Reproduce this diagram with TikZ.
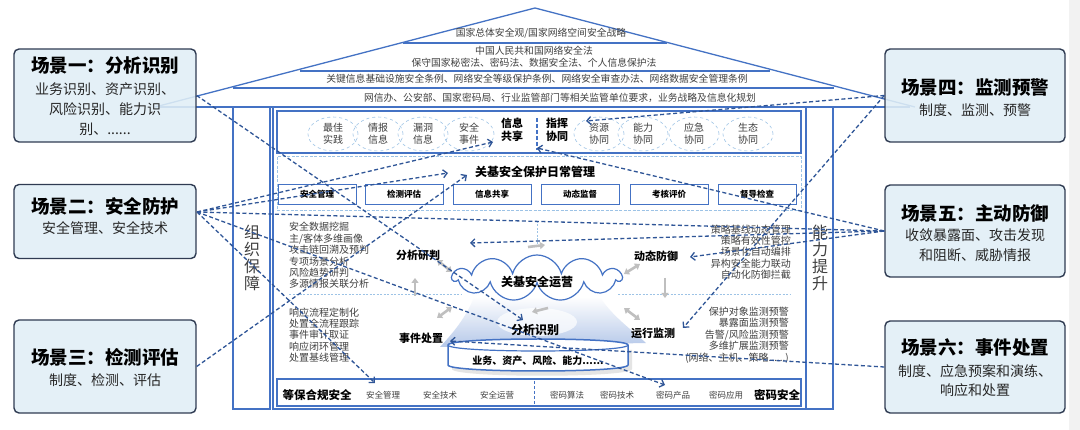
\documentclass[tikz,border=0pt]{standalone}
\usepackage{fontspec}
\setmainfont{Noto Sans CJK SC}
\usetikzlibrary{arrows.meta,shapes.symbols,shapes.geometric}
\definecolor{hblue}{HTML}{4472C4}
\definecolor{lblue}{HTML}{9DC3E6}
\definecolor{dblue}{HTML}{2F5597}
\definecolor{navy}{HTML}{2F3B52}
\definecolor{bfill}{HTML}{E1EFF6}
\definecolor{tgray}{HTML}{404040}
\definecolor{tdark}{HTML}{262626}
\definecolor{agray}{HTML}{BFBFBF}
\definecolor{beam}{HTML}{A9BFE6}
\definecolor{strip}{HTML}{F2F2F2}
\begin{document}
\begin{tikzpicture}[x=1pt,y=-1pt,
 wall/.style={draw=hblue,line width=1.3pt},
 rooft/.style={font=\fontsize{9.8}{11}\selectfont,text=tgray,inner sep=0pt},
 ell/.style={ellipse,draw=lblue,dashed,line width=0.6pt,minimum width=50pt,minimum height=34pt,inner sep=0pt,align=center,font=\fontsize{10}{12}\selectfont,text=tgray},
 boldlab/.style={font=\fontsize{11}{13}\selectfont\bfseries,text=black,align=center,inner sep=0pt},
 minibox/.style={draw=hblue,line width=0.8pt,fill=white,minimum width=78pt,minimum height=20pt,inner sep=0pt,font=\fontsize{8.5}{10}\selectfont\bfseries,text=black},
 listt/.style={font=\fontsize{10}{11.4}\selectfont,text=tgray,inner sep=0pt},
 botsmall/.style={font=\fontsize{8.5}{10}\selectfont,text=tgray,inner sep=0pt},
 scene/.style={draw=navy,line width=1.4pt,rounded corners=5pt,fill=bfill,fill opacity=0.88,minimum width=182pt,inner sep=0pt},
 stitle/.style={font=\fontsize{18.5}{20}\selectfont\bfseries,text=black,inner sep=0pt},
 sbody/.style={font=\fontsize{14}{20}\selectfont,text=tdark,align=center,inner sep=0pt},
 conn/.style={draw=dblue,line width=1.3pt,dash pattern=on 4pt off 2.5pt,-{Straight Barb[length=4pt,width=8pt]}},
 plainconn/.style={draw=dblue,line width=1.3pt,dash pattern=on 4pt off 2.5pt},
 garr/.style={draw=agray,line width=2.6pt,{Triangle[length=5pt,width=7pt]}-{Triangle[length=5pt,width=7pt]}},
 garrone/.style={draw=agray,line width=2.6pt,-{Triangle[length=5pt,width=7pt]}},
 pillart/.style={font=\fontsize{16}{17}\selectfont,text=tgray,align=center,inner sep=0pt}
]
\useasboundingbox (0,0) rectangle (1080,430);
\fill[white] (0,0) rectangle (1080,430);
\fill[strip] (1069,0) rectangle (1080,430);

% ---------------- roof
\coordinate (apex) at (535,8);
\coordinate (roofl) at (155,107);
\coordinate (roofr) at (915,107);
\draw[wall] (roofl) -- (apex) -- (roofr);
\draw[wall] (160,107) -- (910,107);
\draw[wall] (403,43) -- (667,43);
\draw[wall] (300,71) -- (770,71);
\draw[wall] (233,88) -- (834,88);
\node[rooft] (r1) at (541,33) {国家总体安全观/国家网络空间安全战略};
\node[rooft] (r2) at (534,51) {中国人民共和国网络安全法};
\node[rooft] (r3) at (534,63) {保守国家秘密法、密码法、数据安全法、个人信息保护法};
\node[rooft] (r4) at (537,79) {关键信息基础设施安全条例、网络安全等级保护条例、网络安全审查办法、网络数据安全管理条例};
\node[rooft] (r5) at (560,98) {网信办、公安部、国家密码局、行业监管部门等相关监管单位要求，业务战略及信息化规划};

% ---------------- building
\draw[wall] (233,107) -- (233,409) -- (270,409) -- (270,107);
\draw[wall] (273,107) -- (273,409) -- (806,409) -- (806,107);
\draw[wall] (806,409) -- (833,409) -- (833,107);
\node[pillart] (pl) at (252,258) {组\\织\\保\\障};
\node[pillart] (pr) at (820,258) {能\\力\\提\\升};

% top box
\draw[hblue,line width=1.2pt] (277,111) rectangle (801,153);
\node[ell] (e1) at (333,134) {最佳\\实践};
\node[ell] (e2) at (378,134) {情报\\信息};
\node[ell] (e3) at (423,134) {漏洞\\信息};
\node[ell] (e4) at (469,134) {安全\\事件};
\node[ell] (e5) at (599,134) {资源\\协同};
\node[ell] (e6) at (643,134) {能力\\协同};
\node[ell] (e7) at (694,134) {应急\\协同};
\node[ell] (e8) at (748,134) {生态\\协同};
\node[boldlab] (xxgx) at (512,130) {信息\\共享};
\node[boldlab] (zhxt) at (557,130) {指挥\\协同};
\draw[hblue,line width=1.3pt,dash pattern=on 4pt off 2pt] (537,118) -- (537,150);

% daily management
\draw[lblue,line width=1pt,dash pattern=on 3pt off 1.5pt] (277,157) rectangle (801,211);
\node[boldlab,font=\fontsize{12}{14}\selectfont\bfseries] (rcgl) at (535,172) {关基安全保护日常管理};
\node[minibox] (m1) at (317,194) {安全管理};
\node[minibox] (m2) at (404,194) {检测评估};
\node[minibox] (m3) at (492,194) {信息共享};
\node[minibox] (m4) at (580,194) {动态监督};
\node[minibox] (m5) at (669,194) {考核评价};
\node[minibox] (m6) at (757,194) {督导检查};

% operations box
\draw[hblue,line width=0.7pt,double=white,double distance=1.2pt] (277,218) rectangle (801,374);
\draw[lblue,line width=0.6pt,dash pattern=on 2pt off 1.5pt] (289,294) -- (462,294);
\draw[lblue,line width=0.6pt,dash pattern=on 2pt off 1.5pt] (618,294) -- (790,294);
\draw[lblue,line width=0.6pt,dash pattern=on 2pt off 1.5pt] (537,221) -- (537,246);
\node[listt,anchor=west,align=left] (lt) at (289,255.5) {安全数据挖掘\\主/客体多维画像\\攻击链回溯及预判\\专项场景分析\\风险趋势研判\\多源情报关联分析};
\node[listt,anchor=west,align=left] (lb) at (289,335) {响应流程定制化\\处置全流程跟踪\\事件审计取证\\响应闭环管理\\处置基线管理};
\node[listt,anchor=east,align=right] (rt) at (791,252) {策略基线动态管理\\策略有效性管控\\场景化自动编排\\异构安全能力联动\\自动化防御拦截};
\node[listt,anchor=east,align=right] (rb) at (789,335) {保护对象监测预警\\暴露面监测预警\\告警/风险监测预警\\多维扩展监测预警\\(网络、主机、策略......)};

% beam
\shade[top color=white,bottom color=beam,fill opacity=0.85] (474,297) .. controls (466,318) and (452,334) .. (440,347) -- (646,343) .. controls (632,330) and (612,316) .. (600,297) -- cycle;
\shade[inner color=white,outer color=white,opacity=0.7] (537,322) ellipse [x radius=40,y radius=14];

\node[boldlab] (fxyp) at (418,255) {分析研判};
\node[boldlab] (dtfy) at (656,256) {动态防御};
\node[boldlab] (sjcz) at (421,338) {事件处置};
\node[boldlab] (yxjc) at (653,333) {运行监测};

% cloud
\node[cloud,cloud puffs=11,aspect=3.6,draw=hblue,line width=1.2pt,fill=white,minimum width=168pt,minimum height=46pt] (cloud) at (537,278) {};
\node[boldlab,font=\fontsize{12}{14}\selectfont\bfseries] (cloudt) at (537,282) {关基安全运营};
\node[boldlab,font=\fontsize{12}{14}\selectfont\bfseries] (fxsb) at (535,330) {分析识别};
% cylinder
\fill[gray!35,opacity=0.6] (452,350) -- (452,369) .. controls (452,378) and (632,378) .. (632,369) -- (632,350) -- cycle;
\draw[hblue,line width=1.5pt,fill=white] (448,345) -- (448,365) .. controls (448,373) and (628,373) .. (628,365) -- (628,345) .. controls (628,337) and (448,337) .. (448,345) -- cycle;
\draw[hblue,line width=1.2pt] (448,345) .. controls (448,353) and (628,353) .. (628,345);
\node[boldlab,font=\fontsize{10}{12}\selectfont\bfseries] (cylt) at (538,361) {业务、资产、风险、能力......};

% gray arrows
\draw[garr] (437,260) -- (452,272);
\draw[garrone] (415,296) -- (415,278);
\draw[garr] (437,318) -- (452,307);
\draw[garr] (624,274) -- (640,264);
\draw[garrone] (665,278) -- (665,298);
\draw[garr] (624,308) -- (640,320);
\draw[garrone] (528,247) -- (545,245);
\draw[garrone] (548,308) -- (532,312);

% bottom box
\draw[hblue,line width=1.2pt] (277,379) rectangle (801,406);
\draw[hblue,line width=1pt,dash pattern=on 3pt off 2pt] (534,381) -- (534,404);
\node[boldlab,font=\fontsize{11.5}{13}\selectfont\bfseries] (dbhg) at (317,395) {等保合规安全};
\node[botsmall] (b1) at (383,395) {安全管理};
\node[botsmall] (b2) at (440,395) {安全技术};
\node[botsmall] (b3) at (497,395) {安全运营};
\node[botsmall] (b4) at (567,395) {密码算法};
\node[botsmall] (b5) at (617,395) {密码技术};
\node[botsmall] (b6) at (673,395) {密码产品};
\node[botsmall] (b7) at (726,395) {密码应用};
\node[boldlab,font=\fontsize{11.5}{13}\selectfont\bfseries] (mmaq) at (777,395) {密码安全};

% ---------------- scene boxes
\node[scene,minimum height=93pt] (s1) at (105,95.5) {};
\node[scene,minimum height=74pt] (s2) at (105,221.5) {};
\node[scene,minimum height=93pt] (s3) at (105,366.5) {};
\node[scene,minimum height=93pt,minimum width=180pt] (s4) at (975,95.5) {};
\node[scene,minimum height=92pt,minimum width=180pt] (s5) at (975,231) {};
\node[scene,minimum height=92pt,minimum width=180pt] (s6) at (975,367) {};

\node[stitle] (s1t) at (105,66) {场景一：分析识别};
\node[sbody] (s1b) at (105,109) {业务识别、资产识别、\\风险识别、能力识\\别、......};
\node[stitle] (s2t) at (105,206) {场景二：安全防护};
\node[sbody] (s2b) at (105,228) {安全管理、安全技术};
\node[stitle] (s3t) at (105,357) {场景三：检测评估};
\node[sbody] (s3b) at (105,380) {制度、检测、评估};
\node[stitle] (s4t) at (975,88) {场景四：监测预警};
\node[sbody] (s4b) at (975,110) {制度、监测、预警};
\node[stitle] (s5t) at (975,213) {场景五：主动防御};
\node[sbody] (s5b) at (975,245) {收敛暴露面、攻击发现\\和阻断、威胁情报};
\node[stitle] (s6t) at (975,348) {场景六：事件处置};
\node[sbody,font=\fontsize{14}{19.5}\selectfont] (s6b) at (975,380.5) {制度、应急预案和演练、\\响应和处置};

% ---------------- connectors
\coordinate (s2o) at (197,212);
\coordinate (t-fxsb) at (523,320);
\coordinate (t-xxgx) at (493,142);
\coordinate (t-rcgl1) at (448,173);
\coordinate (t-rcgl2) at (467,175);
\coordinate (t-aqgl) at (375,383);
\coordinate (t-mmcp) at (665,385);
\coordinate (t-zhxt) at (586,121);
\coordinate (t-yxjc) at (683,328);
\coordinate (t-fxyp) at (470,243);
\coordinate (t-dtfy) at (690,257);
\coordinate (t-div) at (537,148);
\coordinate (t-sjcz) at (450,341);
\draw[conn] (s1.east) -- (t-fxsb);
\draw[conn] (s2o) -- (t-xxgx);
\draw[conn] (s2o) -- (t-rcgl1);
\draw[conn] (s2o) -- (t-aqgl);
\draw[conn] (s2o) -- (t-mmcp);
\draw[plainconn] (s2o) -- (s5.west);
\draw[conn] (s3.east) -- (t-rcgl2);
\draw[conn] (s4.west) -- (t-zhxt);
\draw[conn] (s4.west) -- (t-yxjc);
\draw[conn] (s5.west) -- (t-fxyp);
\draw[conn] (s5.west) -- (t-dtfy);
\draw[conn] (s5.west) -- (t-div);
\draw[conn] (s6.west) -- (t-sjcz);
\end{tikzpicture}
\end{document}
